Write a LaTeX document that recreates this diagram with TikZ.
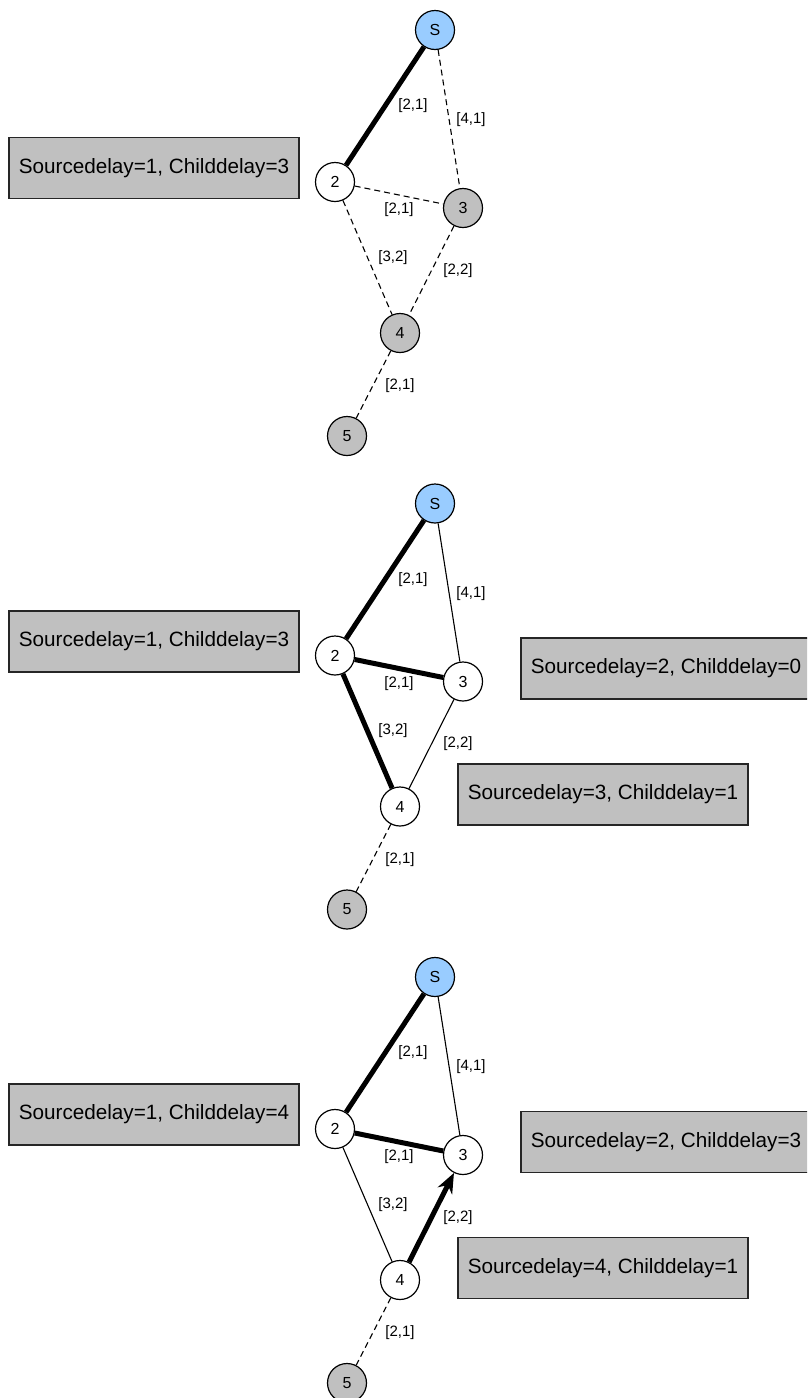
\documentclass[tikz,border=0pt]{standalone}
\usepackage{fontspec}
\setmainfont{Liberation Sans}
\usepackage{tikz}
\usetikzlibrary{arrows.meta}
\usepackage{color}

\definecolor{srcblue}{HTML}{99CCFF}
\definecolor{boxgray}{HTML}{C0C0C0}
\newcommand{\labfont}{\fontsize{15}{18}\selectfont}
\newcommand{\idfont}{\fontsize{16}{19}\selectfont}
\newcommand{\boxfont}{\fontsize{20.7}{24}\selectfont}

\begin{document}
\begin{tikzpicture}[x=1pt,y=-1pt,
        netnode/.style={draw,circle,fill=white,line width=1.2pt,minimum size=39pt,inner sep=0pt,font=\idfont},
        delaybox/.style={draw=black!85,fill=boxgray,line width=1.5pt,minimum width=290pt,minimum height=61pt,inner sep=0pt,font=\boxfont},
        weight/.style={font=\labfont,inner sep=0pt},
        treeedge/.style={line width=5pt},
        linkedge/.style={line width=1.1pt},
        unseen/.style={line width=1.1pt,dash pattern=on 6pt off 4pt}]
        \useasboundingbox (0,0) rectangle (807,1398);

        % first step
        \coordinate (src1) at (435,30);
        \coordinate (v21) at (335,182);
        \coordinate (v31) at (463,208);
        \coordinate (v41) at (400,333);
        \coordinate (v51) at (347,436);

        \node[netnode,fill=srcblue] (Src1) at (src1){S};
        \node[netnode] (V21) at (v21){2};
        \node[netnode,fill=boxgray] (V31) at (v31){3};
        \node[netnode,fill=boxgray] (V41) at (v41){4};
        \node[netnode,fill=boxgray] (V51) at (v51){5};

        \draw[treeedge] (Src1) -- node[weight,xshift=28pt]{[2,1]} (V21);
        \draw[unseen] (Src1) -- node[weight,xshift=22pt,yshift=-1pt]{[4,1]} (V31);
        \draw[unseen] (V21) -- node[weight,yshift=-15pt]{[2,1]} (V31);
        \draw[unseen] (V21) -- node[weight,xshift=25.5pt]{[3,2]} (V41);
        \draw[unseen] (V31) -- node[weight,xshift=26.5pt]{[2,2]} (V41);
        \draw[unseen] (V41) -- node[weight,xshift=26.5pt,yshift=-1.5pt]{[2,1]} (V51);

        \node[delaybox] (left1) at (154,168){Sourcedelay=1, Childdelay=3};

        % second step
        \coordinate (src2) at (435,503.5);
        \coordinate (v22) at (335,655.5);
        \coordinate (v32) at (463,681.5);
        \coordinate (v42) at (400,806.5);
        \coordinate (v52) at (347,909.5);

        \node[netnode,fill=srcblue] (Src2) at (src2){S};
        \node[netnode] (V22) at (v22){2};
        \node[netnode] (V32) at (v32){3};
        \node[netnode] (V42) at (v42){4};
        \node[netnode,fill=boxgray] (V52) at (v52){5};

        \draw[treeedge] (Src2) -- node[weight,xshift=28pt]{[2,1]} (V22);
        \draw[linkedge] (Src2) -- node[weight,xshift=22pt,yshift=-1pt]{[4,1]} (V32);
        \draw[treeedge] (V22) -- node[weight,yshift=-15pt]{[2,1]} (V32);
        \draw[treeedge] (V22) -- node[weight,xshift=25.5pt]{[3,2]} (V42);
        \draw[linkedge] (V32) -- node[weight,xshift=26.5pt]{[2,2]} (V42);
        \draw[unseen] (V42) -- node[weight,xshift=26.5pt,yshift=-1.5pt]{[2,1]} (V52);

        \node[delaybox] (left2) at (154,641.5){Sourcedelay=1, Childdelay=3};
        \begin{scope}
            \clip (0,0) rectangle (807,1398);
            \node[delaybox] (right2) at (666,668.5){Sourcedelay=2, Childdelay=0};
        \end{scope}
        \node[delaybox] (low2) at (603,794.5){Sourcedelay=3, Childdelay=1};

        % third step
        \coordinate (src3) at (435,977);
        \coordinate (v23) at (335,1129);
        \coordinate (v33) at (463,1155);
        \coordinate (v43) at (400,1280);
        \coordinate (v53) at (347,1383);

        \node[netnode,fill=srcblue] (Src3) at (src3){S};
        \node[netnode] (V23) at (v23){2};
        \node[netnode] (V33) at (v33){3};
        \node[netnode] (V43) at (v43){4};
        \node[netnode,fill=boxgray] (V53) at (v53){5};

        \draw[treeedge] (Src3) -- node[weight,xshift=28pt]{[2,1]} (V23);
        \draw[linkedge] (Src3) -- node[weight,xshift=22pt,yshift=-1pt]{[4,1]} (V33);
        \draw[treeedge] (V23) -- node[weight,yshift=-15pt]{[2,1]} (V33);
        \draw[linkedge] (V23) -- node[weight,xshift=25.5pt]{[3,2]} (V43);
        \draw[treeedge,-{Stealth[length=20pt,width=16pt]}] (V43) -- node[weight,xshift=26.5pt]{[2,2]} (V33);
        \draw[unseen] (V43) -- node[weight,xshift=26.5pt,yshift=-1.5pt]{[2,1]} (V53);

        \node[delaybox] (left3) at (154,1114.5){Sourcedelay=1, Childdelay=4};
        \begin{scope}
            \clip (0,0) rectangle (807,1398);
            \node[delaybox] (right3) at (666,1142){Sourcedelay=2, Childdelay=3};
        \end{scope}
        \node[delaybox] (low3) at (603,1268){Sourcedelay=4, Childdelay=1};
    \end{tikzpicture}
\end{document}
